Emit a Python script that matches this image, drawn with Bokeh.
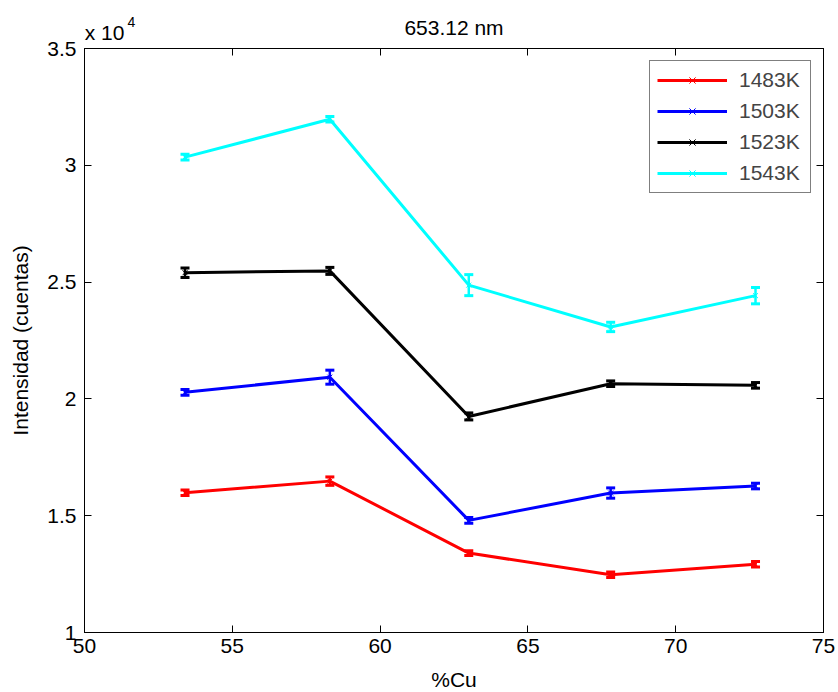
from bokeh.plotting import figure
from bokeh.models import (Range1d, LinearAxis, FixedTicker, CustomJSTickFormatter,
                          Whisker, TeeHead, ColumnDataSource, Legend, LegendItem)
from bokeh.embed import file_html
from bokeh.resources import INLINE

# Copper content of each alloy (%)
cu_pct = [53.4, 58.3, 63.0, 67.8, 72.7]

# Line intensity at 653.12 nm (counts) and its uncertainty, per temperature
temps = ["1483K", "1503K", "1523K", "1543K"]
colors = ["#ff0000", "#0000ff", "#000000", "#00ffff"]

int_1483 = [15980, 16480, 13400, 12470, 12920]
int_1503 = [20280, 20930, 14800, 15970, 16270]
int_1523 = [25400, 25480, 19250, 20650, 20580]
int_1543 = [30350, 31970, 24870, 23080, 24420]

err_1483 = [120, 180, 100, 120, 120]
err_1503 = [120, 300, 120, 220, 120]
err_1523 = [200, 150, 150, 120, 120]
err_1543 = [120, 120, 450, 200, 350]

intensities = [int_1483, int_1503, int_1523, int_1543]
errors = [err_1483, err_1503, err_1523, err_1543]

x_ticks = [50, 55, 60, 65, 70, 75]
y_ticks = [10000, 15000, 20000, 25000, 30000, 35000]

title_text = "653.12 nm"
exponent_text = "x 10"
exponent_power = "4"

FONT = "Liberation Sans"
FS = "21px"

p = figure(frame_width=739, frame_height=584, title=None,
           min_border_left=84, min_border_right=15,
           min_border_top=48, min_border_bottom=60,
           x_range=Range1d(50, 75), y_range=Range1d(10000, 35000),
           output_backend="svg", toolbar_location=None,
           background_fill_color="white", border_fill_color="white")

p.xgrid.visible = False
p.ygrid.visible = False
p.outline_line_color = "black"
p.outline_line_width = 1

scaled = CustomJSTickFormatter(code="return String(tick / 10000);")


def style_axis(ax, ticks, show_labels=True):
    ax.ticker = FixedTicker(ticks=ticks, minor_ticks=[])
    ax.major_tick_in = 7
    ax.major_tick_out = 0
    ax.minor_tick_in = 0
    ax.minor_tick_out = 0
    ax.axis_line_color = "black"
    ax.major_tick_line_color = "black"
    ax.major_label_text_font = FONT
    ax.major_label_text_color = "black"
    if show_labels:
        ax.major_label_text_font_size = FS
    else:
        ax.major_label_text_font_size = "0px"
        ax.major_label_standoff = 0


style_axis(p.xaxis[0], x_ticks)
style_axis(p.yaxis[0], y_ticks)
p.yaxis[0].formatter = scaled
p.xaxis[0].major_label_standoff = 6
p.yaxis[0].major_label_standoff = 8

p.xaxis[0].axis_label = "%Cu"
p.xaxis[0].axis_label_text_font = FONT
p.xaxis[0].axis_label_text_font_size = FS
p.xaxis[0].axis_label_text_font_style = "normal"
p.xaxis[0].axis_label_text_color = "black"
p.xaxis[0].axis_label_standoff = 12

p.yaxis[0].axis_label = "Intensidad (cuentas)"
p.yaxis[0].axis_label_text_font = FONT
p.yaxis[0].axis_label_text_font_size = FS
p.yaxis[0].axis_label_text_font_style = "normal"
p.yaxis[0].axis_label_text_color = "black"
p.yaxis[0].axis_label_standoff = 12

# Mirrored tick marks on the top and right edges of the box
top_axis = LinearAxis()
style_axis(top_axis, x_ticks, show_labels=False)
p.add_layout(top_axis, "above")
right_axis = LinearAxis()
style_axis(right_axis, y_ticks, show_labels=False)
p.add_layout(right_axis, "right")


def text_axis(ticks, code, size, standoff):
    """An axis without line or ticks that only carries header text."""
    ax = LinearAxis(ticker=FixedTicker(ticks=ticks, minor_ticks=[]),
                    formatter=CustomJSTickFormatter(code=code))
    ax.axis_line_color = None
    ax.major_tick_line_color = None
    ax.minor_tick_line_color = None
    ax.major_tick_in = 0
    ax.major_tick_out = 0
    ax.major_label_standoff = standoff
    ax.major_label_text_font = FONT
    ax.major_label_text_font_size = size
    ax.major_label_text_color = "black"
    return ax


# Axis exponent at the top-left corner of the box
p.add_layout(text_axis([50.68], "return '%s';" % exponent_text, FS, 5), "above")
# Superscript power of ten
p.add_layout(text_axis([51.59], "return '%s';" % exponent_power, "14px", -9), "above")
# Title centred over the box
p.add_layout(text_axis([62.5], "return '%s';" % title_text, FS, -25), "above")

items = []
for temp, color, ys, es in zip(temps, colors, intensities, errors):
    src = ColumnDataSource(dict(
        x=cu_pct, y=ys,
        upper=[y + e for y, e in zip(ys, es)],
        lower=[y - e for y, e in zip(ys, es)],
    ))
    line_r = p.line("x", "y", source=src, line_color=color, line_width=3)
    whisker = Whisker(base="x", upper="upper", lower="lower", source=src,
                      line_color=color, line_width=2.5,
                      upper_head=TeeHead(size=9, line_color=color, line_width=3),
                      lower_head=TeeHead(size=9, line_color=color, line_width=3))
    p.add_layout(whisker)
    mark_r = p.scatter("x", "y", source=src, marker="x", size=7,
                       line_color=color, line_width=1)
    items.append(LegendItem(label=temp, renderers=[line_r, mark_r]))

legend = Legend(items=items, location="top_right", margin=12,
                border_line_color="black", border_line_width=1,
                background_fill_color="white", background_fill_alpha=1,
                label_text_font=FONT, label_text_font_size=FS,
                glyph_width=70, glyph_height=22, label_height=22,
                spacing=7, padding=7, label_standoff=12, label_width=64)
p.add_layout(legend)

open("out.html", "w").write(file_html(p, INLINE))
